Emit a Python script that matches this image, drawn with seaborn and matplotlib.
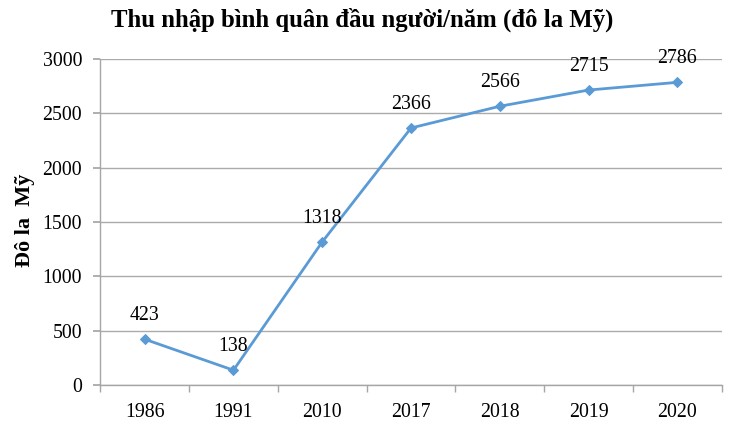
import matplotlib
matplotlib.use("Agg")
import matplotlib.pyplot as plt
import seaborn as sns
import pandas as pd

years = ["1986", "1991", "2010", "2017", "2018", "2019", "2020"]
income = [423, 138, 1318, 2366, 2566, 2715, 2786]

sns.set_theme(style="white")
plt.rcParams["font.family"] = ["Liberation Serif", "DejaVu Serif"]
plt.rcParams["text.color"] = "black"
plt.rcParams["xtick.color"] = "black"
plt.rcParams["ytick.color"] = "black"
plt.rcParams["axes.labelcolor"] = "black"

df = pd.DataFrame({"year": years, "income": income})

fig = plt.figure(figsize=(7.32, 4.28), dpi=100)
ax = fig.add_axes([0.137, 0.100, 0.849, 0.762])

sns.lineplot(data=df, x="year", y="income", ax=ax, color="#5B9BD5",
             marker="D", markersize=5.5, markeredgecolor="#5B9BD5",
             linewidth=2, sort=False)

# value labels above each point
for i, v in enumerate(income):
    ax.annotate(str(v), (i, v), xytext=(0, 10), textcoords="offset points",
                ha="center", va="bottom", fontsize=14.3)

ax.set_ylim(0, 3000)
ax.set_yticks(range(0, 3001, 500))
ax.set_xlim(-0.5, len(years) - 0.5)
ax.set_xticks(range(len(years)))
ax.set_xticklabels(years)
ax.set_xticks([i - 0.5 for i in range(len(years) + 1)], minor=True)
ax.tick_params(axis="x", which="major", length=0, labelsize=14.3, pad=13)
ax.tick_params(axis="x", which="minor", length=5, color="#A6A6A6", width=1, direction="out", bottom=True)
ax.tick_params(axis="y", length=5, color="#A6A6A6", labelcolor="black", labelsize=14.3, left=True, direction="out", pad=8)

ax.yaxis.grid(True, color="#ABABAB", linewidth=1)
ax.set_axisbelow(True)
for s in ["top", "right"]:
    ax.spines[s].set_visible(False)
for s in ["left", "bottom"]:
    ax.spines[s].set_color("#A6A6A6")
    ax.spines[s].set_linewidth(1)

ax.set_xlabel("")
ax.set_ylabel("")
fig.text(0.034, 0.486, "Đô la  Mỹ", rotation=90, ha="center", va="center",
         fontsize=16, fontweight="bold")
fig.text(0.495, 0.953, "Thu nhập bình quân đầu người/năm (đô la Mỹ)",
         ha="center", va="center", fontsize=17.8, fontweight="bold")

fig.savefig("out.png", dpi=100)
